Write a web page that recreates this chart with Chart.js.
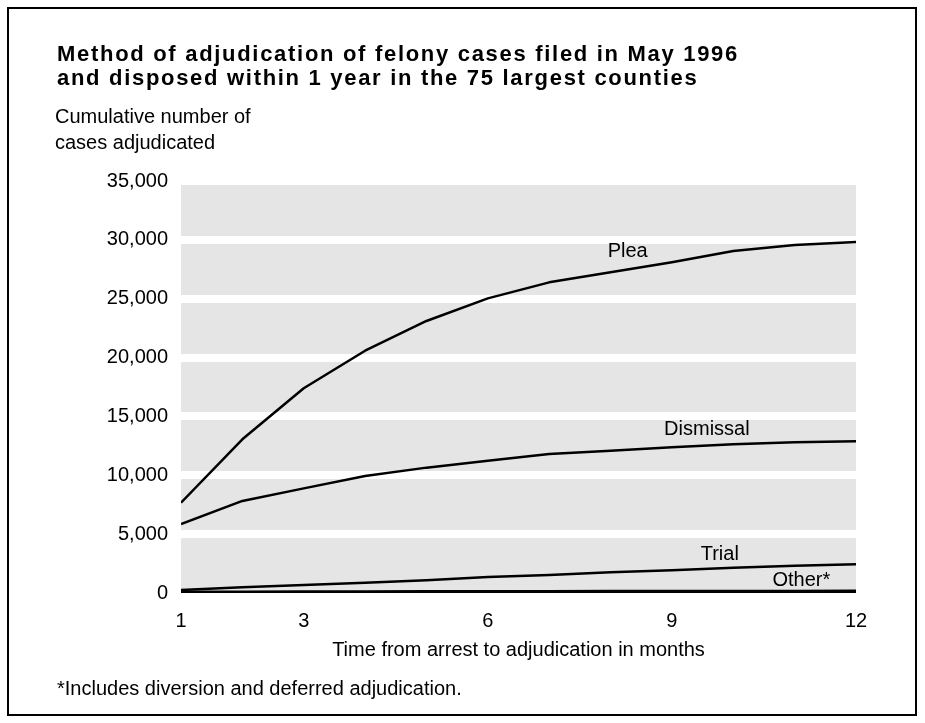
<!DOCTYPE html>
<html>
<head>
<meta charset="utf-8">
<script src="https://cdn.jsdelivr.net/npm/chart.js@4.4.1/dist/chart.umd.min.js"></script>
<style>
html,body{margin:0;padding:0;background:#fff;}
#wrap{width:925px;height:723px;position:relative;}
canvas{display:block;}
</style>
</head>
<body>
<div id="wrap"><canvas id="c" width="925" height="723"></canvas></div>
<script>
// ---- data ----
const MONTHS = [1, 2, 3, 4, 5, 6, 7, 8, 9, 10, 11, 12];
const X_TICKS = [1, 3, 6, 9, 12];
const Y_TICKS = [0, 5000, 10000, 15000, 20000, 25000, 30000, 35000];
const PLEA = [7670, 13060, 17390, 20580, 23110, 25030, 26390, 27240, 28090, 29050, 29560, 29820];
const DISMISSAL = [5860, 7820, 8890, 9940, 10650, 11240, 11810, 12090, 12380, 12630, 12800, 12890];
const TRIAL = [260, 480, 680, 880, 1080, 1360, 1530, 1760, 1930, 2150, 2320, 2440];
const OTHER = [40, 50, 60, 70, 80, 90, 95, 100, 105, 110, 115, 120];
const SERIES_NAMES = ['Plea', 'Dismissal', 'Trial', 'Other*'];
const TITLE_LINES = ['Method of adjudication of felony cases filed in May 1996',
                     'and disposed within 1 year in the 75 largest counties'];
const Y_TITLE_LINES = ['Cumulative number of', 'cases adjudicated'];
const X_TITLE = 'Time from arrest to adjudication in months';
const FOOTNOTE = '*Includes diversion and deferred adjudication.';

const FONT = "'Liberation Sans', Arial, sans-serif";
Chart.defaults.font.family = FONT;
Chart.defaults.color = '#000';

function pts(arr) { return arr.map((v, i) => ({ x: MONTHS[i], y: v })); }

const decor = {
  id: 'decor',
  beforeDraw(chart) {
    const { ctx, chartArea: a } = chart;
    ctx.save();
    ctx.fillStyle = '#fff';
    ctx.fillRect(0, 0, chart.width, chart.height);
    ctx.fillStyle = '#e5e5e5';
    ctx.fillRect(a.left, a.top, a.right - a.left, a.bottom - a.top);
    ctx.restore();
  },
  afterDraw(chart) {
    const { ctx } = chart;
    ctx.save();
    ctx.fillStyle = '#000';
    // title
    ctx.font = "bold 22px " + FONT;
    ctx.letterSpacing = '1.7px';
    ctx.textAlign = 'left';
    ctx.textBaseline = 'alphabetic';
    ctx.fillText(TITLE_LINES[0], 57, 61);
    ctx.fillText(TITLE_LINES[1], 57, 85);
    ctx.letterSpacing = '0px';
    // y title
    ctx.font = "20px " + FONT;
    ctx.fillText(Y_TITLE_LINES[0], 55, 123);
    ctx.fillText(Y_TITLE_LINES[1], 55, 149);
    // footnote
    ctx.fillText(FOOTNOTE, 57, 695);
    // series labels anchored in data space
    const xs = chart.scales.x, ys = chart.scales.y;
    const anchors = [[8.28, 28970], [9.57, 13930], [9.78, 3230], [11.11, 1100]];
    ctx.textAlign = 'center';
    ctx.textBaseline = 'middle';
    SERIES_NAMES.forEach((n, i) => {
      ctx.fillText(n, xs.getPixelForValue(anchors[i][0]), ys.getPixelForValue(anchors[i][1]));
    });
    // frame
    ctx.strokeStyle = '#000';
    ctx.lineWidth = 2;
    ctx.strokeRect(8, 8, 908, 707);
    ctx.restore();
  }
};

const lineStyle = (w) => ({ borderColor: '#000', borderWidth: w, pointRadius: 0, tension: 0, fill: false, borderJoinStyle: 'round' });

new Chart(document.getElementById('c'), {
  type: 'line',
  data: {
    datasets: [
      Object.assign({ label: SERIES_NAMES[0], data: pts(PLEA) }, lineStyle(2.5)),
      Object.assign({ label: SERIES_NAMES[1], data: pts(DISMISSAL) }, lineStyle(2.5)),
      Object.assign({ label: SERIES_NAMES[2], data: pts(TRIAL) }, lineStyle(2.5)),
      Object.assign({ label: SERIES_NAMES[3], data: pts(OTHER) }, lineStyle(4))
    ]
  },
  options: {
    responsive: false,
    animation: false,
    layout: { padding: { left: 20, right: 69, top: 181, bottom: 61 } },
    plugins: { legend: { display: false }, title: { display: false }, tooltip: { enabled: false } },
    scales: {
      x: {
        type: 'linear',
        min: 1, max: 12,
        afterBuildTicks: (s) => { s.ticks = X_TICKS.map(v => ({ value: v })); },
        afterFit: (s) => { s.height = 69; },
        grid: { display: false, drawTicks: false },
        border: { display: false },
        ticks: { font: { size: 20 }, color: '#000', padding: 16, maxRotation: 0, callback: (v) => String(v) },
        title: { display: true, text: X_TITLE, font: { size: 20 }, color: '#000', padding: 0 }
      },
      y: {
        min: 0, max: 35000,
        afterBuildTicks: (s) => { s.ticks = Y_TICKS.map(v => ({ value: v })); },
        afterFit: (s) => { s.width = 161; },
        grid: {
          drawTicks: false,
          lineWidth: 8,
          color: (c) => (c.tick && c.tick.value === 0) ? 'rgba(0,0,0,0)' : '#fff'
        },
        border: { display: false },
        ticks: { font: { size: 20 }, color: '#000', padding: 13,
                 callback: (v) => Number(v).toLocaleString('en-US') }
      }
    }
  },
  plugins: [decor]
});
</script>
</body>
</html>
